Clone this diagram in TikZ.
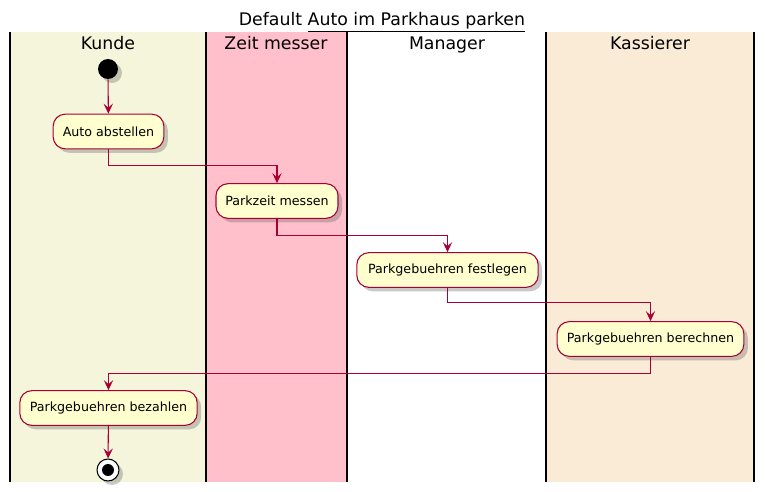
\documentclass[tikz,border=0pt]{standalone}
\usepackage{fontspec}
\setmainfont{DejaVu Sans}
\usetikzlibrary{shadows,arrows.meta}
\definecolor{pumlred}{HTML}{A80036}
\definecolor{actfill}{HTML}{FEFECE}
\definecolor{lanebeige}{HTML}{F5F5DC}
\definecolor{lanepink}{HTML}{FFC0CB}
\definecolor{laneantique}{HTML}{FAEBD7}
\tikzset{
  shad/.style={drop shadow={shadow xshift=3pt,shadow yshift=-3pt,opacity=0.35,fill=black!60}},
  act/.style={draw=pumlred,fill=actfill,rounded corners=9pt,line width=0.8pt,
    minimum height=26pt,inner sep=0pt,font=\fontsize{9.5pt}{11.5pt}\selectfont,shad},
  flow/.style={draw=pumlred,line width=0.8pt,-{Stealth[length=7.5pt,width=7pt,inset=3pt]}},
  lanehead/.style={font=\fontsize{13pt}{15pt}\selectfont,anchor=base},
  laneline/.style={line width=1.5pt,black}
}
\begin{document}
\begin{tikzpicture}[x=0.75pt,y=-0.75pt]
\useasboundingbox (0,0) rectangle (765,492);
\fill[white] (0,0) rectangle (765,492);
% lanes
\fill[lanebeige] (10,32) rectangle (206,482);
\fill[lanepink] (206,32) rectangle (347,482);
\fill[laneantique] (546,32) rectangle (754,482);
\foreach \xx in {10,206,347,546,754} \draw[laneline] (\xx,32) -- (\xx,482);
% title
\node[font=\fontsize{13pt}{15pt}\selectfont,anchor=base] (title) at (382,26) {Default \underline{Auto im Parkhaus parken}};
\node[lanehead] (h1) at (108,50) {Kunde};
\node[lanehead] (h2) at (276,50) {Zeit messer};
\node[lanehead] (h3) at (447,50) {Manager};
\node[lanehead] (h4) at (650,50) {Kassierer};
% start
\node[circle,fill=black,minimum size=15pt,inner sep=0pt,shad] (start) at (108,69) {};
% activities
\node[act,minimum width=83pt] (a1) at (108.5,131.5) {Auto abstellen};
\node[act,minimum width=91.5pt] (a2) at (277,201) {Parkzeit messen};
\node[act,minimum width=136pt] (a3) at (447.5,270) {Parkgebuehren festlegen};
\node[act,minimum width=140pt] (a4) at (650.5,339) {Parkgebuehren berechnen};
\node[act,minimum width=133pt] (a5) at (108.5,408) {Parkgebuehren bezahlen};
% end
\node[circle,draw=black,fill=white,line width=0.8pt,minimum size=16.5pt,inner sep=0pt,shad] (stop) at (108,470) {};
\node[circle,fill=black,minimum size=9pt,inner sep=0pt] (stopdot) at (stop.center) {};
% flows
\draw[flow] (start) -- (a1);
\draw[flow] (a1.south) |- ++(0,16) -| (a2.north);
\draw[flow] (a2.south) |- ++(0,17) -| (a3.north);
\draw[flow] (a3.south) |- ++(0,15) -| (a4.north);
\draw[flow] (a4.south) |- ++(0,17) -| (a5.north);
\draw[flow] (a5) -- (stop);
\end{tikzpicture}
\end{document}
